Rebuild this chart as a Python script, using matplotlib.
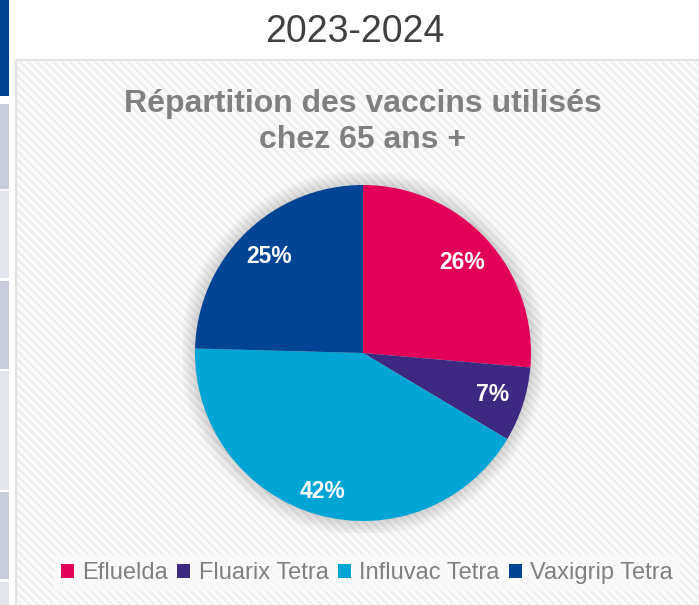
import numpy as np
import matplotlib
matplotlib.use('Agg')
import matplotlib.pyplot as plt
from matplotlib.patches import Rectangle, Circle

plt.rcParams['font.family'] = ['Liberation Sans', 'DejaVu Sans']

# data
vaccines = ['Efluelda', 'Fluarix Tetra', 'Influvac Tetra', 'Vaxigrip Tetra']
shares = [26.4, 7.2, 41.9, 24.6]
colors = ['#E30059', '#3D2882', '#00A5D5', '#004494']
period = '2023-2024'
chart_title = 'Répartition des vaccins utilisés\nchez 65 ans +'

W, H = 699, 605
fig = plt.figure(figsize=(W / 100, H / 100), dpi=100)
fig.patch.set_facecolor('white')


def fx(px):
    return px / W


def fy(py):
    return 1 - py / H


# slide strip on the left
strip = [(0, 96, '#004494'), (104, 189, '#C8CDDC'), (191, 278, '#E4E6EE'),
         (281, 369, '#C8CDDC'), (371, 490, '#E4E6EE'), (492, 579, '#C8CDDC'),
         (582, 605, '#E4E6EE')]
for top, bot, c in strip:
    fig.patches.append(Rectangle((0, fy(bot)), fx(9), fy(top) - fy(bot),
                                 transform=fig.transFigure, facecolor=c,
                                 edgecolor='none', zorder=-2))

fig.text(fx(355), fy(32), period, ha='center', va='center', fontsize=27,
         color='#404040')

# chart area with diagonal stripes
plt.rcParams['hatch.linewidth'] = 1.6
box = Rectangle((fx(16), 0), fx(W), fy(60), transform=fig.transFigure,
                facecolor='#FBFBFB', edgecolor='#EDEDED', hatch='\\\\\\\\',
                linewidth=0, zorder=-2)
fig.patches.append(box)
fig.patches.append(Rectangle((fx(16), -0.01), fx(W), fy(60) + 0.01,
                             transform=fig.transFigure, facecolor='none',
                             edgecolor='#E2E2E2', linewidth=1.5, zorder=-1))

fig.text(fx(363), fy(122), chart_title, ha='center', va='center',
         fontsize=23, fontweight='bold', color='#808080', linespacing=1.28)

# pie
cx, cy, R = 363, 353, 168
pad = 12
ax = fig.add_axes([fx(cx - R - pad), fy(cy + R + pad), 2 * (R + pad) / W, 2 * (R + pad) / H])
ax.set_zorder(2)
ax.patch.set_visible(False)
lim = (R + pad) / R
ax.axis('off')

# soft glow round the pie
for i in range(12):
    ax.add_patch(Circle((0, 0), 1.0 + 0.0075 * (12 - i), facecolor='#000000',
                        alpha=0.011, edgecolor='none', zorder=0))

wedges, _ = ax.pie(shares, colors=colors, startangle=90, counterclock=False,
                   wedgeprops=dict(linewidth=0))
ax.set_xlim(-lim, lim)
ax.set_ylim(-lim, lim)

label_r = [0.80, 0.81, 0.86, 0.80]
for w, v, r in zip(wedges, shares, label_r):
    ang = np.deg2rad((w.theta1 + w.theta2) / 2)
    ax.text(r * np.cos(ang), r * np.sin(ang), '%d%%' % round(v),
            ha='center', va='center', fontsize=16.5, fontweight='bold',
            color='white')

# legend
handles = [Rectangle((0, 0), 1, 1, facecolor=c, edgecolor='none') for c in colors]
leg = fig.legend(handles, vaccines, loc='center', bbox_to_anchor=(fx(367), fy(573)),
                 ncol=4, frameon=True, fontsize=17, handlelength=0.55,
                 handleheight=0.55, handletextpad=0.35, columnspacing=0.4,
                 borderpad=0.3, fancybox=False)
leg.get_frame().set_facecolor('#FAFAFA')
leg.get_frame().set_edgecolor('none')
for t in leg.get_texts():
    t.set_color('#808080')

fig.savefig('out.png', dpi=100)
